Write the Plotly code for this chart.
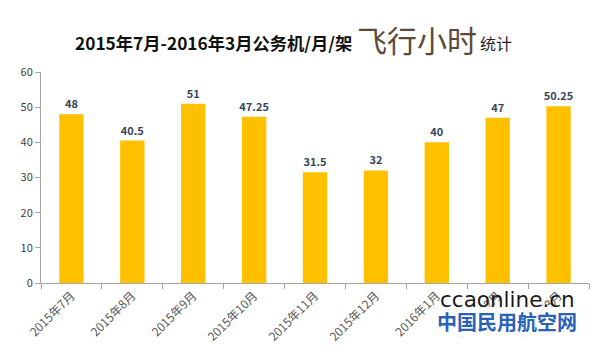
import plotly.graph_objects as go

months = ["2015年7月", "2015年8月", "2015年9月", "2015年10月", "2015年11月",
          "2015年12月", "2016年1月", "2016年2月", "2016年3月"]
hours = [48, 40.5, 51, 47.25, 31.5, 32, 40, 47, 50.25]
labels = ["48", "40.5", "51", "47.25", "31.5", "32", "40", "47", "50.25"]
y_ticks = [0, 10, 20, 30, 40, 50, 60]

FONT = "Noto Sans CJK SC"

fig = go.Figure(go.Bar(
    x=months, y=hours, text=["<b>%s</b>" % t for t in labels], textposition="outside",
    textfont=dict(family=FONT, size=11, color="#3a4558"),
    constraintext="none",
    marker=dict(color="#FFC000", line=dict(width=0)),
    width=0.4, cliponaxis=False,
))

L, R, T, B = 41, 589, 72, 283
fig.update_layout(
    width=600, height=352,
    margin=dict(l=L, r=600 - R, t=T, b=352 - B),
    paper_bgcolor="white", plot_bgcolor="white",
    showlegend=False,
    font=dict(family=FONT),
    xaxis=dict(
        tickangle=-45, tickfont=dict(family=FONT, size=12, color="#595959"),
        showline=True, linecolor="#a6a6a6", linewidth=1,
        ticks="outside", tickson="boundaries", ticklen=5, tickcolor="#a6a6a6",
        showgrid=False, automargin=False,
    ),
    yaxis=dict(
        range=[0, 60], tickvals=y_ticks,
        tickfont=dict(family=FONT, size=11, color="#404040"),
        showline=True, linecolor="#a6a6a6", linewidth=1,
        ticks="outside", ticklen=5, tickcolor="#a6a6a6",
        showgrid=False, zeroline=False, automargin=False,
    ),
)

anns = [
    dict(text="<b>2015年7月-2016年3月公务机/月/架</b>", x=74, y=42,
         font=dict(family=FONT, size=17.3, color="#111111"), xanchor="left"),
    dict(text="飞行小时", x=356, y=39,
         font=dict(family=FONT, size=30, color="#5c4a36"), xanchor="left"),
    dict(text="统计", x=479, y=43,
         font=dict(family=FONT, size=16, color="#222222"), xanchor="left"),
    dict(text="<b>中国民用航空网</b>", x=507, y=321,
         font=dict(family=FONT, size=20, color="#2a62b8"), xanchor="center",
         bgcolor="white"),
    dict(text="ccaonline.cn", x=507, y=299,
         font=dict(family="DejaVu Sans", size=21.5, color="#1a1a1a"), xanchor="center"),
]
for a in anns:
    fig.add_annotation(
        text=a["text"], x=(a["x"] - L) / (R - L), y=(B - a["y"]) / (B - T),
        xref="paper", yref="paper", showarrow=False,
        xanchor=a["xanchor"], yanchor="middle", font=a["font"],
        bgcolor=a.get("bgcolor", "rgba(0,0,0,0)"), borderpad=0,
    )

fig.write_html("out.html")
